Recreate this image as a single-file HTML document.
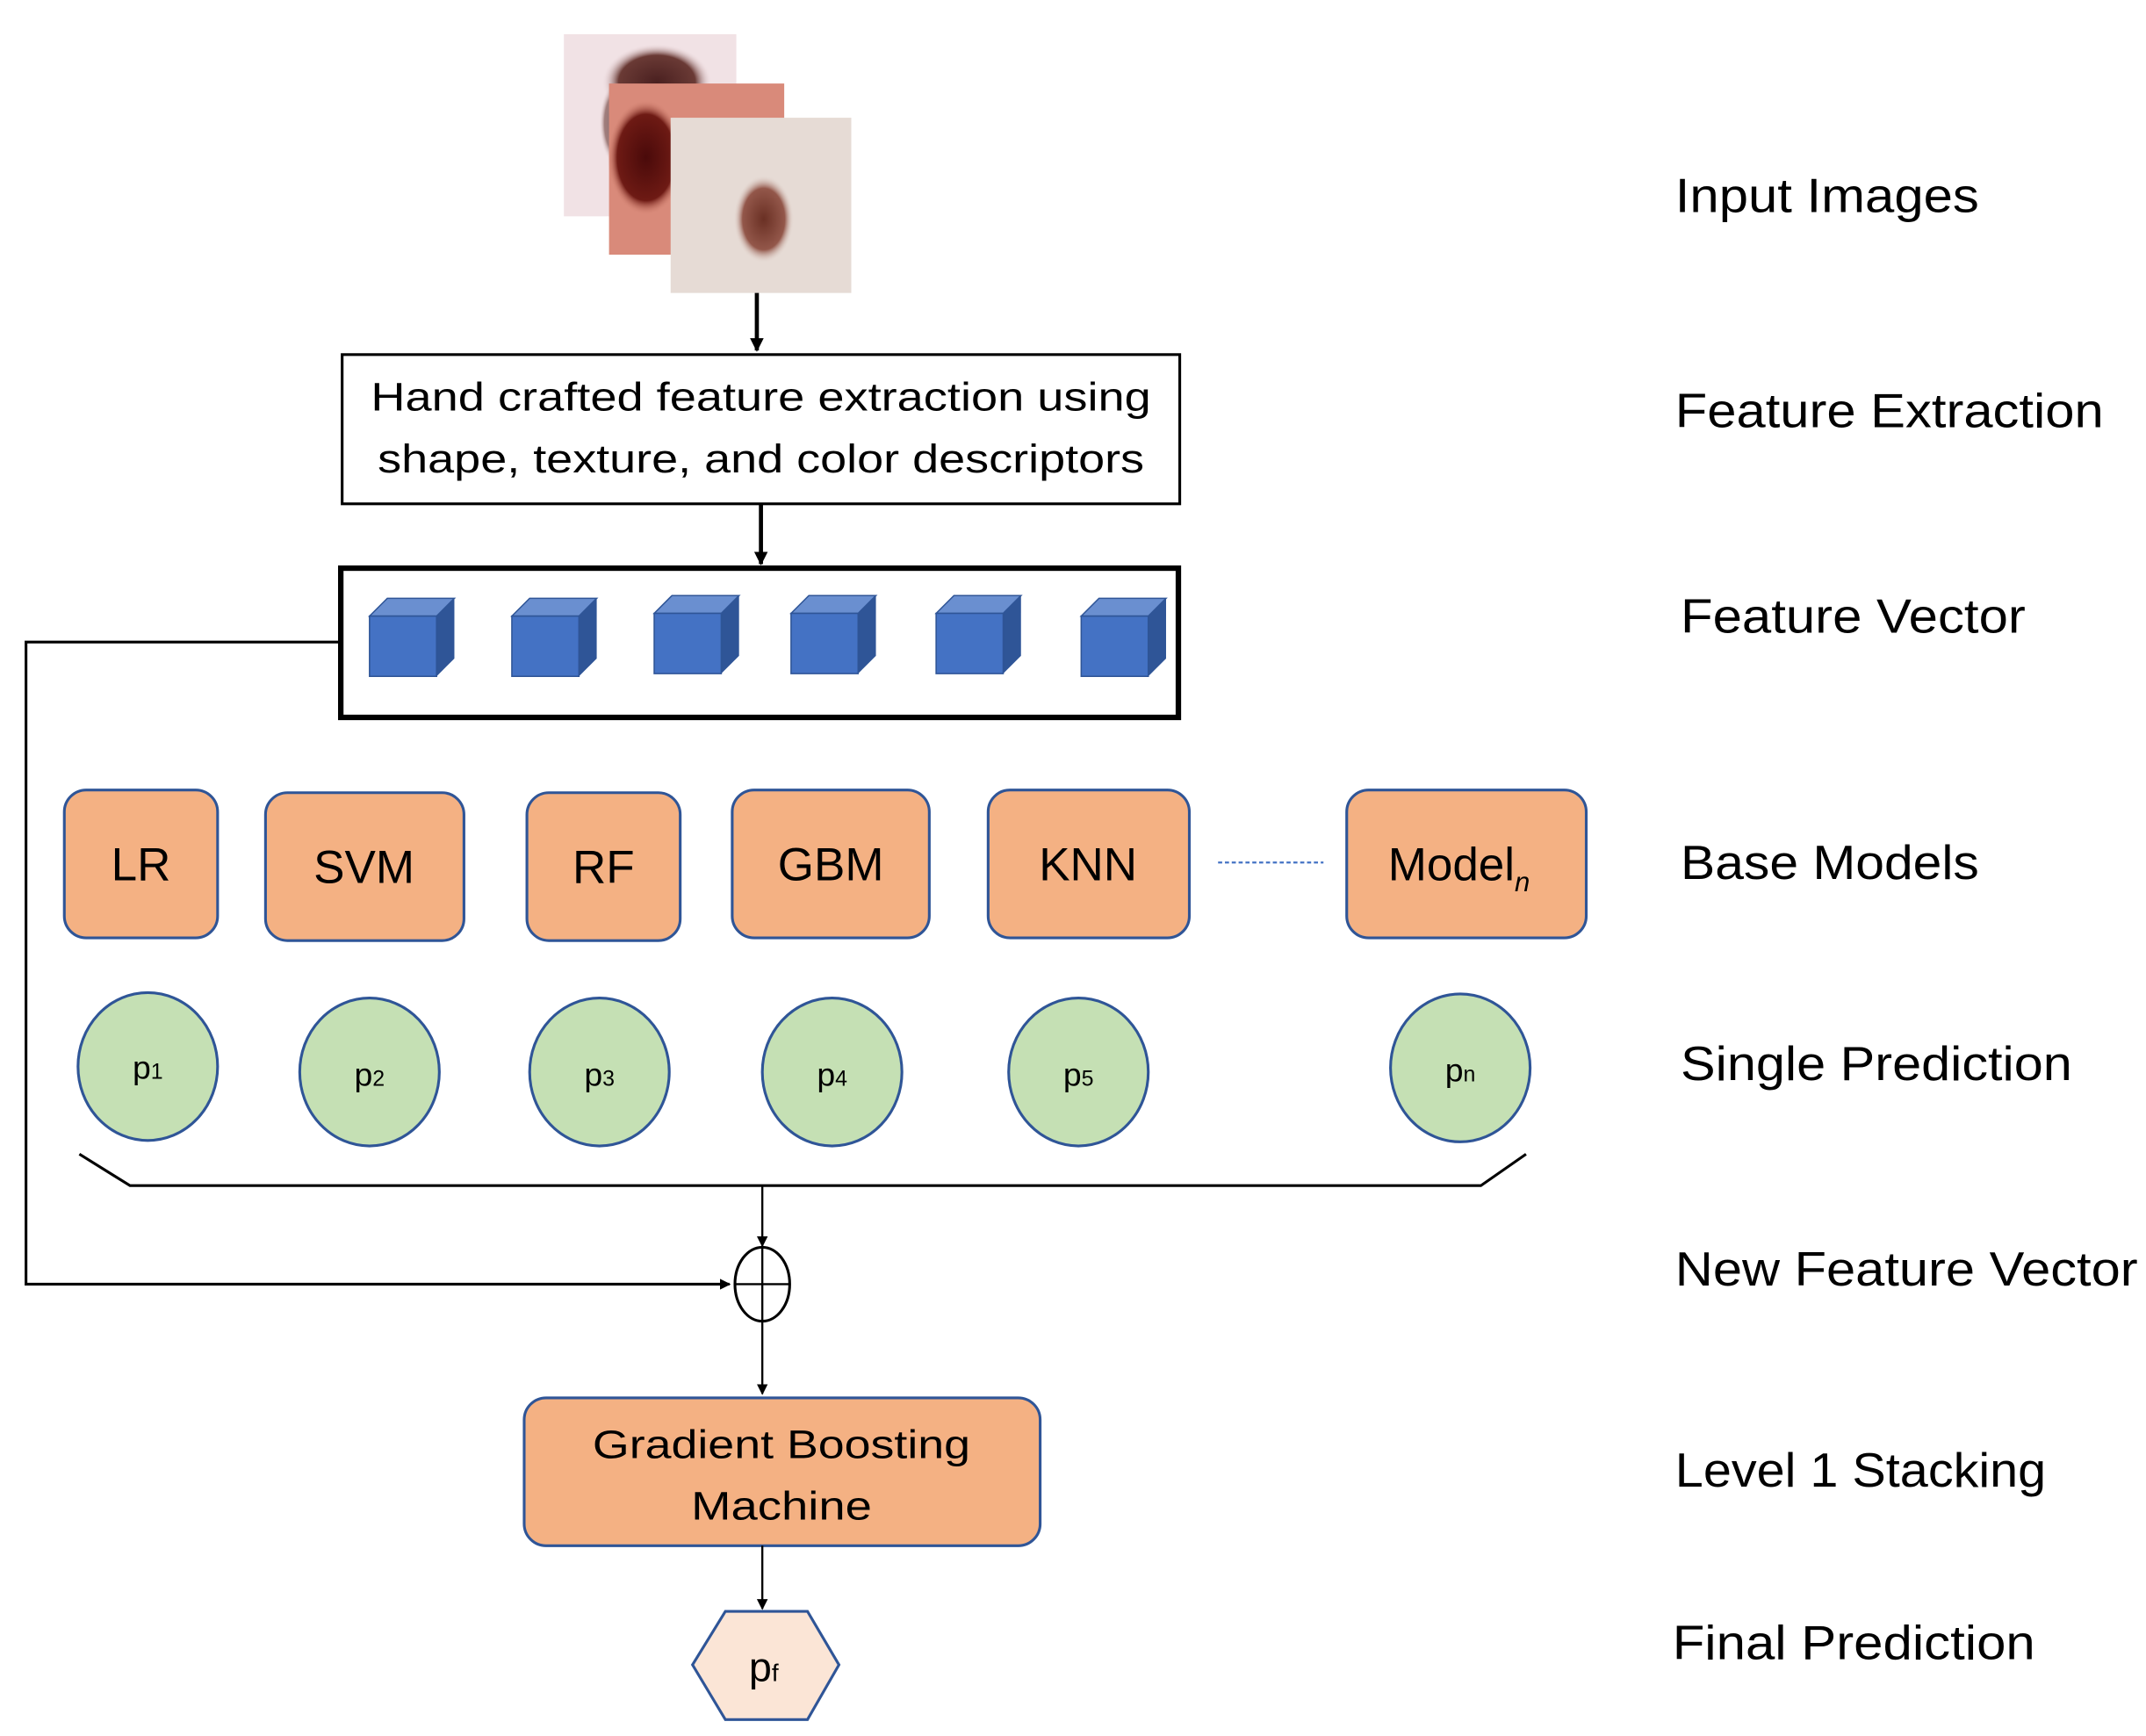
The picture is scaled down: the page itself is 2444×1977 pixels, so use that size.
<!DOCTYPE html>
<html><head><meta charset="utf-8"><style>html,body{margin:0;padding:0;background:#fff}svg{display:block}</style></head>
<body>
<svg width="2444" height="1977" viewBox="0 0 1568 1268" preserveAspectRatio="none" xmlns="http://www.w3.org/2000/svg" font-family="Liberation Sans, sans-serif">
<defs>
<radialGradient id="b1" cx="0.5" cy="0.5" r="0.5"><stop offset="0" stop-color="#4a2020"/><stop offset="0.7" stop-color="#6a3a35"/><stop offset="1" stop-color="#f1dfe2" stop-opacity="0"/></radialGradient>
<radialGradient id="b2" cx="0.5" cy="0.5" r="0.5"><stop offset="0" stop-color="#4a0a0a"/><stop offset="0.75" stop-color="#6e1a14"/><stop offset="1" stop-color="#d98a78" stop-opacity="0"/></radialGradient>
<radialGradient id="b3" cx="0.5" cy="0.5" r="0.5"><stop offset="0" stop-color="#6a3024"/><stop offset="0.7" stop-color="#93574a"/><stop offset="1" stop-color="#e6dbd5" stop-opacity="0"/></radialGradient>
<marker id="ah" markerWidth="8" markerHeight="8" refX="7" refY="4" orient="auto" markerUnits="userSpaceOnUse"><path d="M0,0 L8,4 L0,8 z" fill="#000"/></marker>
<marker id="ahs" markerWidth="10" markerHeight="10" refX="9" refY="5" orient="auto" markerUnits="userSpaceOnUse"><path d="M0,0 L10,5 L0,10 z" fill="#000"/></marker>
<g id="cube"><polygon points="0,15 13,2 62,2 49,15" fill="#6a8fd0" stroke="#2f5597" stroke-width="1"/><polygon points="49,15 62,2 62,46 49,59" fill="#2f5597"/><rect x="0" y="15" width="49" height="44" fill="#4472c4" stroke="#2f5597" stroke-width="1"/></g>
</defs>
<!-- images -->
<rect x="412" y="25" width="126" height="133" fill="#f1e2e5"/>
<ellipse cx="480" cy="60" rx="40" ry="28" fill="url(#b1)"/>
<ellipse cx="450" cy="90" rx="12" ry="30" fill="url(#b1)" opacity="0.6"/>
<rect x="445" y="61" width="128" height="125" fill="#d98a7a"/>
<ellipse cx="472" cy="115" rx="28" ry="42" fill="url(#b2)"/>
<rect x="490" y="86" width="132" height="128" fill="#e6dbd5"/>
<ellipse cx="558" cy="160" rx="22" ry="32" fill="url(#b3)"/>
<!-- arrows -->
<line x1="553" y1="214" x2="553" y2="256" stroke="#000" stroke-width="3" marker-end="url(#ahs)"/>
<rect x="250" y="259" width="612" height="109" fill="#fff" stroke="#000" stroke-width="2"/>
<text x="556" y="300" font-size="29" text-anchor="middle" textLength="570" lengthAdjust="spacingAndGlyphs">Hand crafted feature extraction using</text>
<text x="556" y="345" font-size="29" text-anchor="middle" textLength="560" lengthAdjust="spacingAndGlyphs">shape, texture, and color descriptors</text>
<line x1="556" y1="368" x2="556" y2="412" stroke="#000" stroke-width="3" marker-end="url(#ahs)"/>
<rect x="249" y="415" width="612" height="109" fill="#fff" stroke="#000" stroke-width="4"/>
<use href="#cube" x="270" y="435"/><use href="#cube" x="374" y="435"/><use href="#cube" x="478" y="433"/><use href="#cube" x="578" y="433"/><use href="#cube" x="684" y="433"/><use href="#cube" x="790" y="435"/>
<polyline points="249,469 19,469 19,938 533,938" fill="none" stroke="#000" stroke-width="2" marker-end="url(#ah)"/>
<!-- base models -->
<g fill="#f4b183" stroke="#2f5597" stroke-width="2">
<rect x="47" y="577" width="112" height="108" rx="16"/>
<rect x="194" y="579" width="145" height="108" rx="16"/>
<rect x="385" y="579" width="112" height="108" rx="16"/>
<rect x="535" y="577" width="144" height="108" rx="16"/>
<rect x="722" y="577" width="147" height="108" rx="16"/>
<rect x="984" y="577" width="175" height="108" rx="16"/>
</g>
<g font-size="34" text-anchor="middle" fill="#000">
<text x="103" y="643">LR</text><text x="266" y="645">SVM</text><text x="441" y="645">RF</text><text x="607" y="643">GBM</text><text x="795" y="643">KNN</text>
<text x="1066" y="643">Model<tspan font-size="20" font-style="italic" dy="8">n</tspan></text>
</g>
<line x1="890" y1="630" x2="967" y2="630" stroke="#4472c4" stroke-width="1.5" stroke-dasharray="3,2"/>
<!-- circles -->
<g fill="#c5e0b4" stroke="#2f5597" stroke-width="2">
<ellipse cx="108" cy="779" rx="51" ry="54"/><ellipse cx="270" cy="783" rx="51" ry="54"/><ellipse cx="438" cy="783" rx="51" ry="54"/><ellipse cx="608" cy="783" rx="51" ry="54"/><ellipse cx="788" cy="783" rx="51" ry="54"/><ellipse cx="1067" cy="780" rx="51" ry="54"/>
</g>
<g font-size="24" text-anchor="middle">
<text x="108" y="788">p<tspan font-size="16">1</tspan></text><text x="270" y="793">p<tspan font-size="16">2</tspan></text><text x="438" y="793">p<tspan font-size="16">3</tspan></text><text x="608" y="793">p<tspan font-size="16">4</tspan></text><text x="788" y="793">p<tspan font-size="16">5</tspan></text><text x="1067" y="790">p<tspan font-size="16">n</tspan></text>
</g>
<!-- bracket -->
<polyline points="58,843 95,866 1082,866 1115,843" fill="none" stroke="#000" stroke-width="2"/>
<line x1="557" y1="866" x2="557" y2="910" stroke="#000" stroke-width="1.5" marker-end="url(#ah)"/>
<ellipse cx="557" cy="938" rx="20" ry="27" fill="#fff" stroke="#000" stroke-width="2"/>
<line x1="537" y1="938" x2="577" y2="938" stroke="#000" stroke-width="1.5"/>
<line x1="557" y1="911" x2="557" y2="965" stroke="#000" stroke-width="1.5"/>
<line x1="557" y1="965" x2="557" y2="1018" stroke="#000" stroke-width="1.5" marker-end="url(#ah)"/>
<rect x="383" y="1021" width="377" height="108" rx="16" fill="#f4b183" stroke="#2f5597" stroke-width="2"/>
<text x="571" y="1065" font-size="29" text-anchor="middle" textLength="276" lengthAdjust="spacingAndGlyphs">Gradient Boosting</text>
<text x="571" y="1110" font-size="29" text-anchor="middle" textLength="132" lengthAdjust="spacingAndGlyphs">Machine</text>
<line x1="557" y1="1129" x2="557" y2="1175" stroke="#000" stroke-width="1.5" marker-end="url(#ah)"/>
<polygon points="530,1177 590,1177 613,1216 590,1256 530,1256 506,1216" fill="#fbe5d6" stroke="#2f5597" stroke-width="2"/>
<text x="558" y="1228" font-size="30" text-anchor="middle">p<tspan font-size="18">f</tspan></text>
<!-- right labels -->
<g font-size="35" fill="#000" lengthAdjust="spacingAndGlyphs">
<text x="1224" y="155" textLength="222" lengthAdjust="spacingAndGlyphs">Input Images</text>
<text x="1224" y="312" textLength="313" lengthAdjust="spacingAndGlyphs">Feature Extraction</text>
<text x="1228" y="462" textLength="252" lengthAdjust="spacingAndGlyphs">Feature Vector</text>
<text x="1228" y="642" textLength="218" lengthAdjust="spacingAndGlyphs">Base Models</text>
<text x="1228" y="789" textLength="286" lengthAdjust="spacingAndGlyphs">Single Prediction</text>
<text x="1224" y="939" textLength="338" lengthAdjust="spacingAndGlyphs">New Feature Vector</text>
<text x="1224" y="1086" textLength="271" lengthAdjust="spacingAndGlyphs">Level 1 Stacking</text>
<text x="1222" y="1212" textLength="265" lengthAdjust="spacingAndGlyphs">Final Prediction</text>
</g>
</svg>
</body></html>
